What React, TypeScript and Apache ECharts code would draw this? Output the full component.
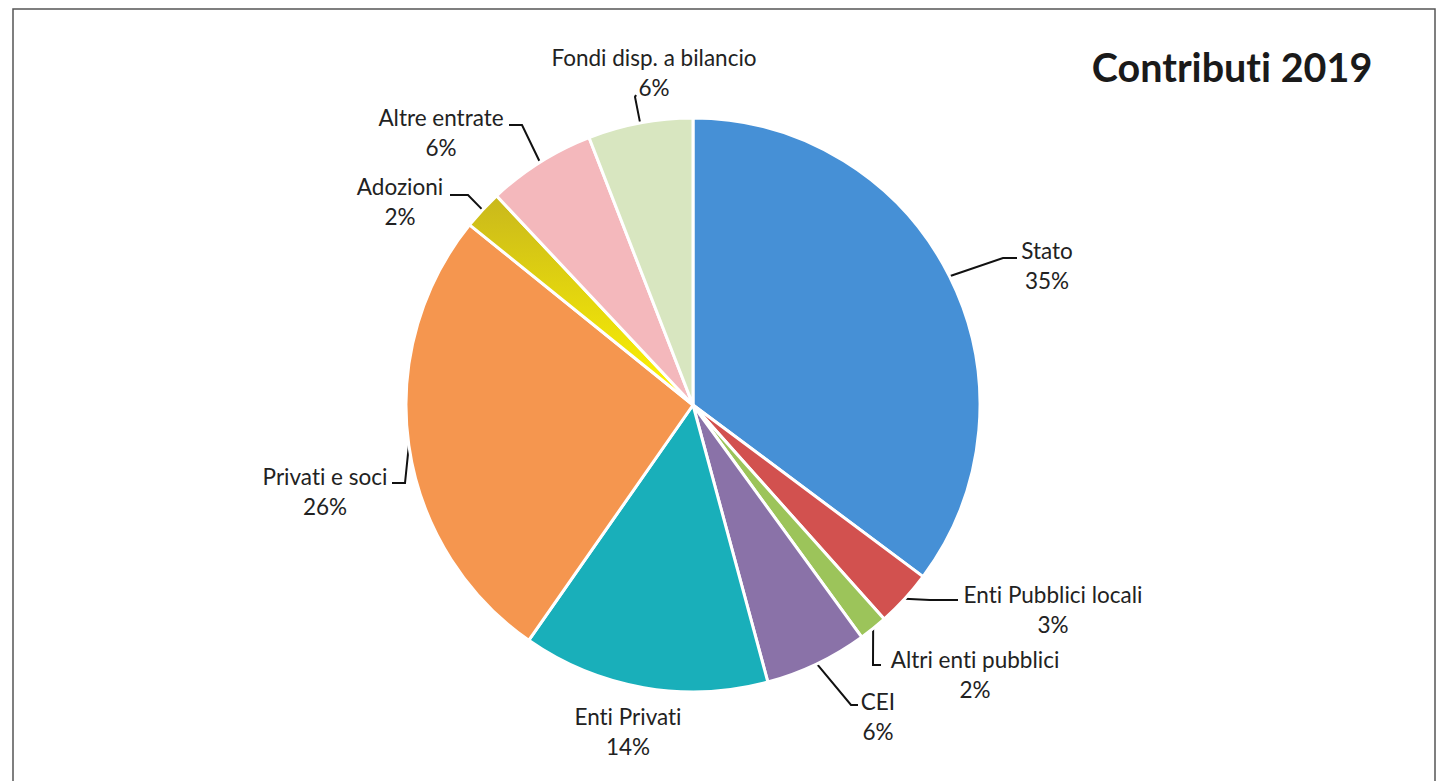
import React, { useEffect, useRef } from "react";
import * as echarts from "echarts";

const titleText = "Contributi 2019";
const categories = [
  "Stato",
  "Enti Pubblici locali",
  "Altri enti pubblici",
  "CEI",
  "Enti Privati",
  "Privati e soci",
  "Adozioni",
  "Altre entrate",
  "Fondi disp. a bilancio",
];
const shares = [35.2, 3.2, 1.6, 5.8, 13.9, 26.1, 2.2, 6.1, 5.9];

const sliceColors: any[] = [
  "#4690D6",
  "#D2514F",
  "#9CC45A",
  "#8A72A8",
  "#19AFBA",
  "#F5964F",
  new echarts.graphic.LinearGradient(0, 0, 0, 1, [
    { offset: 0, color: "#C9B81C" },
    { offset: 1, color: "#FFF500" },
  ]),
  "#F4B8BC",
  "#D8E6C0",
];

// label block centres and leader line elbow/end (layout only)
const labelSpots: { x: number; y: number; line: number[][] | null }[] = [
  { x: 1047, y: 265, line: [[1003, 258], [1017, 258]] },
  { x: 1053, y: 609, line: [[930, 600], [958, 600]] },
  { x: 975, y: 674, line: [[873, 665], [881, 665]] },
  { x: 878, y: 716, line: [[851, 705], [858, 705]] },
  { x: 628, y: 731, line: null },
  { x: 325, y: 491, line: [[405, 483], [392, 483]] },
  { x: 400, y: 201, line: [[468, 195], [450, 195]] },
  { x: 441, y: 132, line: [[522, 125], [509, 125]] },
  { x: 654, y: 72, line: [[635, 97], [636, 95]] },
];

const FONT = "Lato, 'Open Sans', sans-serif";

export default function App() {
  const ref = useRef<HTMLDivElement>(null);
  useEffect(() => {
    if (!ref.current) return;
    const chart = echarts.init(ref.current, null, { renderer: "svg" });
    const data = categories.map((name, i) => ({
      name,
      value: shares[i],
      itemStyle: { color: sliceColors[i] },
      labelLine: { show: labelSpots[i].line !== null },
    }));
    chart.setOption({
      animation: false,
      backgroundColor: "#ffffff",
      title: {
        text: titleText,
        right: 67,
        top: 41,
        textStyle: {
          fontFamily: FONT,
          fontSize: 39.5,
          fontWeight: "bold",
          color: "#1a1a1a",
        },
      },
      graphic: [
        {
          type: "rect",
          shape: { x: 13, y: 9, width: 1422, height: 800 },
          style: { fill: "none", stroke: "#555", lineWidth: 1.5 },
          silent: true,
        },
      ],
      series: [
        {
          type: "pie",
          center: [693, 405],
          radius: 287,
          startAngle: 90,
          clockwise: true,
          avoidLabelOverlap: false,
          itemStyle: { borderColor: "#ffffff", borderWidth: 3 },
          label: {
            show: true,
            position: "outside",
            fontFamily: FONT,
            fontSize: 22.5,
            lineHeight: 30,
            color: "#222",
            align: "center",
            formatter: (p: any) => `${p.name}\n${Math.round(p.percent)}%`,
          },
          labelLine: {
            show: true,
            length: 10,
            length2: 10,
            lineStyle: { color: "#111", width: 2 },
          },
          labelLayout: (params: any) => {
            const s = labelSpots[params.dataIndex];
            const res: any = {
              x: s.x,
              y: s.y,
              align: "center",
              verticalAlign: "middle",
            };
            if (s.line && params.labelLinePoints) {
              res.labelLinePoints = [
                params.labelLinePoints[0],
                s.line[0],
                s.line[1],
              ];
            }
            return res;
          },
          data,
        },
      ],
    });
    return () => chart.dispose();
  }, []);
  return (
    <>
      <style>{"svg text { font-variant-ligatures: none; font-feature-settings: 'liga' 0; }"}</style>
      <div
        ref={ref}
        style={{ position: "fixed", left: 0, top: 0, width: 1445, height: 781 }}
      />
    </>
  );
}
